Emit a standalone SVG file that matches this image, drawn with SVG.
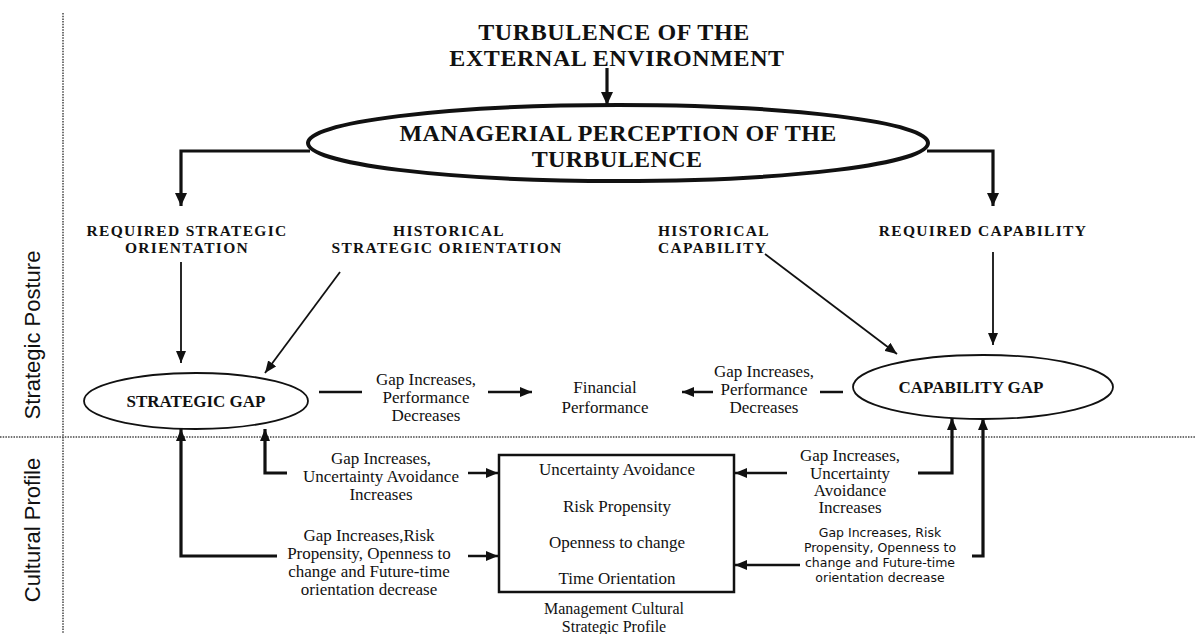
<svg xmlns="http://www.w3.org/2000/svg" width="1195" height="634" viewBox="0 0 1195 634">
<style>
.hd{font-family:"Liberation Serif","Times New Roman",serif;font-weight:bold;fill:#111;text-anchor:middle}
.lb{font-size:15.5px;letter-spacing:1.3px}
.st{text-anchor:start}
.sm{font-family:"Liberation Serif","Times New Roman",serif;font-size:17px;fill:#111;text-anchor:middle}
.cap{font-size:16px}
.sn{font-family:"DejaVu Sans",Verdana,sans-serif;font-size:12.5px;fill:#111;text-anchor:middle}
.side{font-family:"Liberation Sans",Arial,sans-serif;font-size:22px;fill:#111;text-anchor:middle}
.dot{stroke:#444;stroke-width:1.5;stroke-dasharray:1.5 1.2;fill:none}
.thick{stroke:#111;stroke-width:3.2;fill:none}
.mid{stroke:#111;stroke-width:2.5;fill:none}
.thin{stroke:#111;stroke-width:1.8;fill:none}
.shape{fill:#fff;stroke:#111}
</style>
<defs>
<marker id="ah" markerUnits="userSpaceOnUse" markerWidth="14" markerHeight="12" refX="13" refY="6" orient="auto"><path d="M0,0 L13,6 L0,12 z" fill="#111"/></marker>
<marker id="as" markerUnits="userSpaceOnUse" markerWidth="13" markerHeight="10" refX="12" refY="5" orient="auto"><path d="M0,0 L12,5 L0,10 z" fill="#111"/></marker>
</defs>
<rect width="1195" height="634" fill="#fff"/>
<g id="lanes">
<line class="dot" x1="63" y1="13" x2="63" y2="634"/>
<line class="dot" x1="0" y1="437" x2="1195" y2="437"/>
<text class="side" transform="translate(40,335) rotate(-90)">Strategic Posture</text>
<text class="side" transform="translate(40,530) rotate(-90)">Cultural Profile</text>
</g>
<g id="connectors">
<path class="thick" d="M607,68 V105" marker-end="url(#ah)"/>
<path class="thick" d="M310,151 H181 V206" marker-end="url(#ah)"/>
<path class="thick" d="M927,151 H993 V206" marker-end="url(#ah)"/>
<path class="thin" d="M181,262 V363" marker-end="url(#as)"/>
<path class="thin" d="M340,272 L265,373" marker-end="url(#as)"/>
<path class="thin" d="M765,254 L897,354" marker-end="url(#as)"/>
<path class="thin" d="M993,252 V345" marker-end="url(#as)"/>
<path class="mid" d="M319,392 H362"/>
<path class="mid" d="M488,392 H532" marker-end="url(#as)"/>
<path class="mid" d="M713,392 H682" marker-end="url(#as)"/>
<path class="mid" d="M820,392 H843"/>
<path class="thick" d="M287,473 H265 V429" marker-end="url(#as)"/>
<path class="thick" d="M277,556 H181 V429" marker-end="url(#as)"/>
<path class="mid" d="M468,473 H498" marker-end="url(#as)"/>
<path class="mid" d="M468,556 H498" marker-end="url(#as)"/>
<path class="mid" d="M787,473 H735" marker-end="url(#as)"/>
<path class="mid" d="M800,565 H735" marker-end="url(#as)"/>
<path class="thick" d="M918,473 H952 V418" marker-end="url(#as)"/>
<path class="thick" d="M972,556 H983 V418" marker-end="url(#as)"/>
</g>
<g id="turbulence">
<text class="hd" font-size="24" letter-spacing="0.6" x="614" y="40">TURBULENCE OF THE</text>
<text class="hd" font-size="24" letter-spacing="0.6" x="617" y="66">EXTERNAL ENVIRONMENT</text>
</g>
<g id="perception">
<ellipse class="shape" cx="618" cy="143" rx="310" ry="38" stroke-width="4"/>
<text class="hd" font-size="24" letter-spacing="0.4" x="618" y="141">MANAGERIAL PERCEPTION OF THE</text>
<text class="hd" font-size="24" letter-spacing="0.4" x="617" y="167">TURBULENCE</text>
</g>
<g id="req-strategic">
<text class="hd lb" x="187" y="236">REQUIRED STRATEGIC</text>
<text class="hd lb" x="187" y="253">ORIENTATION</text>
</g>
<g id="hist-strategic">
<text class="hd lb" x="449" y="236">HISTORICAL</text>
<text class="hd lb" x="447" y="253">STRATEGIC ORIENTATION</text>
</g>
<g id="hist-capability">
<text class="hd lb st" x="658" y="236">HISTORICAL</text>
<text class="hd lb st" x="658" y="253">CAPABILITY</text>
</g>
<g id="req-capability">
<text class="hd lb" x="983" y="236">REQUIRED CAPABILITY</text>
</g>
<g id="strategic-gap">
<ellipse class="shape" cx="196" cy="401" rx="112" ry="28" stroke-width="1.8"/>
<text class="hd" font-size="17" x="196" y="407">STRATEGIC GAP</text>
</g>
<g id="capability-gap">
<ellipse class="shape" cx="983" cy="387" rx="130" ry="32" stroke-width="1.8"/>
<text class="hd" font-size="17" x="971" y="393">CAPABILITY GAP</text>
</g>
<g id="label-left-perf">
<text class="sm" x="426" y="385">Gap Increases,</text>
<text class="sm" x="426" y="403">Performance</text>
<text class="sm" x="426" y="421">Decreases</text>
</g>
<g id="financial">
<text class="sm" x="605" y="393">Financial</text>
<text class="sm" x="605" y="413">Performance</text>
</g>
<g id="label-right-perf">
<text class="sm" x="764" y="377">Gap Increases,</text>
<text class="sm" x="764" y="395">Performance</text>
<text class="sm" x="764" y="413">Decreases</text>
</g>
<g id="profile">
<rect class="shape" x="499" y="455" width="235" height="137" stroke-width="2.5"/>
<text class="sm" x="617" y="475">Uncertainty Avoidance</text>
<text class="sm" x="617" y="512">Risk Propensity</text>
<text class="sm" x="617" y="548">Openness to change</text>
<text class="sm" x="617" y="584">Time Orientation</text>
<text class="sm cap" x="614" y="614">Management Cultural</text>
<text class="sm cap" x="614" y="632">Strategic Profile</text>
</g>
<g id="label-left-ua">
<text class="sm" x="381" y="464">Gap Increases,</text>
<text class="sm" x="381" y="482">Uncertainty Avoidance</text>
<text class="sm" x="381" y="500">Increases</text>
</g>
<g id="label-left-risk">
<text class="sm" x="369" y="541">Gap Increases,Risk</text>
<text class="sm" x="369" y="559">Propensity, Openness to</text>
<text class="sm" x="369" y="577">change and Future-time</text>
<text class="sm" x="369" y="595">orientation decrease</text>
</g>
<g id="label-right-ua">
<text class="sm" x="850" y="461">Gap Increases,</text>
<text class="sm" x="850" y="479">Uncertainty</text>
<text class="sm" x="850" y="496">Avoidance</text>
<text class="sm" x="850" y="513">Increases</text>
</g>
<g id="label-right-risk">
<text class="sn" x="880" y="537">Gap Increases, Risk</text>
<text class="sn" x="880" y="552">Propensity, Openness to</text>
<text class="sn" x="880" y="567">change and Future-time</text>
<text class="sn" x="880" y="582">orientation decrease</text>
</g>
</svg>
